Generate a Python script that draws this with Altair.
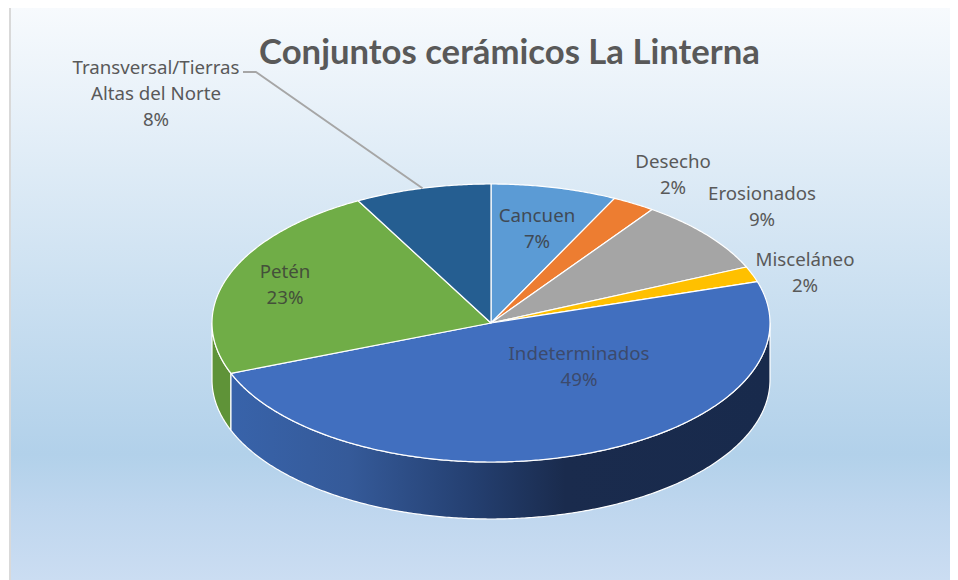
import math
import altair as alt

# ---- data ----
categories = ["Cancuen", "Desecho", "Erosionados", "Misceláneo", "Indeterminados", "Petén", "Transversal/Tierras\nAltas del Norte"]
slice_values = [7.3, 2.5, 8.6, 1.8, 48.9, 23.0, 7.9]
percent_labels = ["7%", "2%", "9%", "2%", "49%", "23%", "8%"]
title_text = "Conjuntos cerámicos La Linterna"

# ---- styles ----
top_colors = ["#5b9bd5", "#ed7d31", "#a5a5a5", "#ffc000", "#416fbf", "#70ad47", "#255e91"]
label_colors = ["#404a55", "#595959", "#595959", "#595959", "#3c4a6c", "#44503a", "#595959"]
W, H = 942, 572
OX, OY = 8, 8             # page margin
CX, CY = 491 - OX, 323 - OY
RX, RY = 279, 139
DEPTH = 57
label_pos = [(537, 216), (673, 162), (762, 194), (805, 260), (579, 354), (285, 272), (156, 68)]


def pt(deg, dy=0):
    a = math.radians(deg)
    return [CX + RX * math.sin(a), CY - RY * math.cos(a) + dy]


def arc(a0, a1, dy=0):
    n = max(2, int(abs(a1 - a0) * 2))
    return [pt(a0 + (a1 - a0) * i / n, dy) for i in range(n + 1)]


def feature(name, rings, kind="Polygon"):
    return {"type": "Feature", "properties": {"name": name},
            "geometry": {"type": kind, "coordinates": rings}}


total = sum(slice_values)
edges = [0.0]
for v in slice_values:
    edges.append(edges[-1] + v / total * 360)

proj = alt.Projection(type="identity", scale=1, translate=[0, 0])


def shape(feat, fill, stroke="#ffffff", width=1.2):
    return alt.Chart(alt.InlineData(values=[feat], format=alt.DataFormat(type="json"))).mark_geoshape(
        fill=fill, stroke=stroke, strokeWidth=width, strokeJoin="round"
    ).project(**proj.to_dict())


def wall(a0, a1):
    ring = arc(a0, a1) + arc(a1, a0, DEPTH)
    ring.append(ring[0])
    return [ring]


# ---- background ----
blank = alt.Data(values=[{"a": 1}])
bg = alt.Chart(blank).mark_rect(
    fill=alt.Gradient(
        gradient="linear", x1=0, x2=0, y1=0, y2=1,
        stops=[
            alt.GradientStop(offset=0, color="#f7fafd"),
            alt.GradientStop(offset=0.78, color="#b2d1ea"),
            alt.GradientStop(offset=0.87, color="#bed6ee"),
            alt.GradientStop(offset=1, color="#cbddf2"),
        ],
    )
).encode(x=alt.value(3), x2=alt.value(W), y=alt.value(0), y2=alt.value(H))
frame_left = alt.Chart(blank).mark_rect(fill="#d9d9d9").encode(
    x=alt.value(1), x2=alt.value(3), y=alt.value(0), y2=alt.value(H))

# ---- pie walls ----
blue_wall = alt.Gradient(
    gradient="linear", x1=0, x2=1, y1=0, y2=0,
    stops=[
        alt.GradientStop(offset=0, color="#3863aa"),
        alt.GradientStop(offset=0.22, color="#355a99"),
        alt.GradientStop(offset=0.45, color="#243f70"),
        alt.GradientStop(offset=0.62, color="#1a2b4d"),
        alt.GradientStop(offset=1, color="#182a4c"),
    ],
)
wall_blue = shape(feature("wall indeterminados", wall(90, edges[5])), blue_wall)
wall_green = shape(feature("wall peten", wall(edges[5], 270)), "#5f9338")

# ---- pie top ----
tops = []
for i, name in enumerate(categories):
    ring = [[CX, CY]] + arc(edges[i], edges[i + 1]) + [[CX, CY]]
    tops.append(shape(feature(name, [ring]), top_colors[i]))

# ---- leader line from the Transversal slice ----
mid = (edges[6] + edges[7]) / 2
leader = shape(
    feature("leader", [[243 - OX, 72 - OY], [256 - OX, 72 - OY], pt(mid)], "LineString"),
    "transparent", "#a6a6a6", 2,
)

# ---- labels ----
texts = []
for name, pct, col, (lx, ly) in zip(categories, percent_labels, label_colors, label_pos):
    texts.append(
        alt.Chart(alt.Data(values=[{"t": name + "\n" + pct}])).mark_text(
            font="Noto Sans", fontSize=18.7, color=col, align="center", baseline="middle",
            lineBreak="\n", lineHeight=25.8,
        ).encode(text="t:N", x=alt.value(lx - OX), y=alt.value(ly - OY))
    )

title = alt.Chart(alt.Data(values=[{"t": title_text}])).mark_text(
    font="Lato", fontSize=34.7, fontWeight="bold", color="#595959", align="center", baseline="middle",
).encode(text="t:N", x=alt.value(509.5 - OX), y=alt.value(54 - OY))

chart = alt.layer(
    bg, frame_left, wall_green, wall_blue, *tops, leader, *texts, title
).properties(
    width=W, height=H, background="#ffffff", padding=0,
    autosize=alt.AutoSizeParams(type="none", contains="content"),
).configure_view(stroke=None)

chart.save("out.html", embed_options={"renderer": "svg", "actions": False})
